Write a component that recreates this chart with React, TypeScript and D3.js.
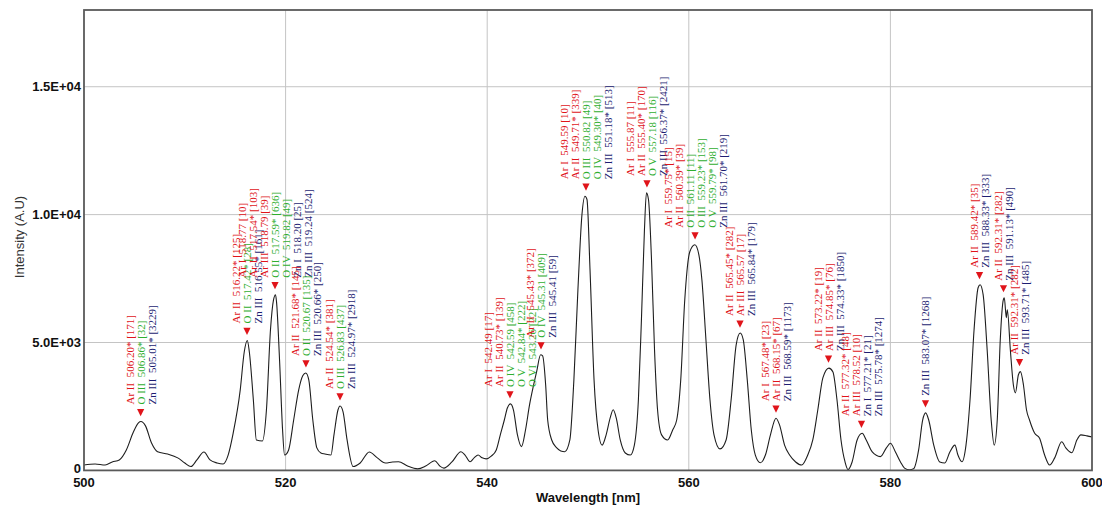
import React from "react";
import * as d3 from "d3";

// Emission spectrum: wavelength (nm) and intensity (a.u.)
const wavelengths = [
  500.0, 501.1, 502.1, 502.8, 503.5, 504.2, 504.9, 505.4, 505.65, 506.1, 506.7, 507.3, 508.3, 509.3, 510.0,
  510.6, 511.2, 511.9, 512.5, 513.2, 513.8, 514.3, 514.8, 515.5, 515.9, 516.2, 516.4, 516.8, 517.1, 517.7,
  518.1, 518.5, 518.8, 519.0, 519.1, 519.4, 519.7, 519.9, 520.3, 520.8, 521.3, 521.7, 522.0, 522.3, 522.7,
  523.1, 523.5, 523.9, 524.5, 524.8, 525.2, 525.4, 525.7, 526.1, 526.7, 527.4, 528.3, 529.1, 529.9, 530.6,
  531.2, 532.1, 533.1, 533.9, 534.8, 535.3, 535.7, 536.5, 537.4, 537.8, 538.3, 538.7, 539.1, 539.5, 539.9,
  540.4, 540.9, 541.3, 541.7, 542.0, 542.3, 542.6, 543.0, 543.4, 543.8, 544.2, 544.5, 544.9, 545.3, 545.5,
  545.8, 546.0, 546.4, 546.9, 547.3, 547.7, 548.2, 548.6, 549.0, 549.4, 549.7, 549.9, 550.2, 550.6, 551.0,
  551.4, 551.8, 552.2, 552.5, 552.8, 553.2, 553.7, 554.2, 554.6, 555.0, 555.3, 555.6, 555.8, 556.0, 556.3,
  556.6, 556.9, 557.3, 557.9, 558.4, 558.8, 559.2, 559.6, 560.1, 560.6, 561.0, 561.3, 561.7, 562.1, 562.5,
  563.1, 563.7, 564.2, 564.7, 565.1, 565.4, 565.8, 566.2, 566.6, 567.1, 567.6, 568.1, 568.65, 569.0, 569.5,
  570.0, 570.6, 571.2, 571.8, 572.3, 572.8, 573.3, 573.9, 574.3, 574.7, 575.1, 575.5, 575.8, 576.2, 576.7,
  577.2, 577.6, 578.2, 579.0, 579.6, 580.0, 580.5, 581.0, 581.4, 581.9, 582.3, 582.8, 583.2, 583.5, 583.8,
  584.3, 584.9, 585.4, 585.9, 586.4, 586.7, 587.1, 587.5, 587.9, 588.3, 588.7, 588.9, 589.2, 589.6, 590.0,
  590.3, 590.6, 590.9, 591.2, 591.3, 591.5, 591.6, 591.9, 592.2, 592.4, 592.7, 592.9, 593.2, 593.5, 593.8,
  594.3, 594.8, 595.3, 595.8, 596.3, 597.0, 597.4, 598.0, 598.5, 598.9, 599.5, 600.0,
];
const intensities = [
  210, 250, 210, 330, 410, 800, 1500, 1860, 1910, 1740, 1070, 730, 640, 490, 290,
  150, 410, 720, 410, 290, 250, 600, 1460, 3150, 4640, 5080, 4640, 2760, 1190, 1150,
  2370, 5500, 6670, 6870, 6590, 4320, 1580, 600, 800, 1970, 3150, 3700, 3810, 3540, 1970,
  880, 680, 640, 600, 1390, 2370, 2520, 2290, 1190, 150, 290, 720, 490, 290, 330,
  340, 170, 60, 170, 380, 170, 90, 330, 730, 600, 340, 490, 600, 490, 450,
  560, 800, 1390, 1970, 2440, 2600, 2370, 1390, 930, 1580, 2560, 3150, 3850, 4520, 4480,
  3340, 1970, 1190, 880, 760, 730, 1190, 3540, 7060, 10000, 10720, 10590, 7850, 3540, 1580,
  990, 1390, 2050, 2370, 2050, 1190, 680, 600, 990, 2760, 5890, 9410, 10850, 10590, 8240,
  4710, 2370, 1390, 1190, 1580, 1970, 3540, 6670, 8550, 8820, 8430, 7450, 5110, 2760, 1390,
  840, 1190, 2760, 4910, 5370, 5110, 3540, 1580, 600, 300, 600, 1390, 2040, 1780, 990,
  600, 330, 210, 600, 1190, 2370, 3620, 4000, 3850, 2760, 1190, 330, 30, 330, 1190,
  1450, 1190, 720, 540, 880, 1060, 720, 330, 90, 20, 60, 800, 1970, 2250, 1970,
  990, 330, 290, 720, 990, 600, 340, 990, 2760, 5500, 7140, 7260, 6870, 4710, 1970,
  990, 1970, 5110, 6670, 6750, 5970, 6280, 4710, 3340, 3030, 3740, 3860, 3340, 2370, 1970,
  1460, 1260, 600, 210, 490, 1120, 880, 690, 1190, 1390, 1350, 1310,
];

// Identified lines: marker wavelength and the label lines stacked above it
const markerWavelengths = [
  505.62, 516.17, 518.95, 522.02, 525.4, 542.26, 545.34, 549.8, 555.85, 560.62, 565.08, 568.65,
  573.86, 577.13, 583.48, 588.84, 591.22, 592.81,
];
const markerLabels = [
  ["Ar II  506.20* [171]", "O III  506.86* [32]", "Zn III  505.01* [3229]"],
  ["Ar II  516.22* [125]", "O II  517.42* [28]", "Zn III  516.55* [161]"],
  [
    "Ar I  518.77 [10]",
    "Ar II  517.54* [103]",
    "Ar III  518.79 [39]",
    "O II  517.59* [636]",
    "O IV  519.82 [49]",
    "Zn I  518.20 [25]",
    "Zn III  519.24 [524]",
  ],
  ["Ar II  521.68* [145]", "O II  520.67 [135]", "Zn III  520.66* [250]"],
  ["Ar II  524.54* [381]", "O III  526.83 [437]", "Zn III  524.97* [2918]"],
  ["Ar I  542.49 [17]", "Ar II  540.73* [139]", "O IV  542.59 [458]", "O V  542.84* [222]", "O VI  543.26 [22]"],
  ["Ar II  545.43* [372]", "O IV  545.31 [409]", "Zn III  545.41 [59]"],
  ["Ar I  549.59 [10]", "Ar II  549.71* [339]", "O III  550.82 [49]", "O IV  549.30* [40]", "Zn III  551.18* [513]"],
  ["Ar I  555.87 [11]", "Ar II  555.40* [170]", "O V  557.18 [116]", "Zn III  556.37* [2421]"],
  [
    "Ar I  559.75* [15]",
    "Ar II  560.39* [39]",
    "O II  561.11 [11]",
    "O III  559.23* [153]",
    "O V  559.79* [98]",
    "Zn III  561.70* [219]",
  ],
  ["Ar II  565.45* [282]", "Ar III  565.57 [17]", "Zn III  565.84* [179]"],
  ["Ar I  567.48* [23]", "Ar II  568.15* [67]", "Zn III  568.59* [1173]"],
  ["Ar II  573.22* [19]", "Ar III  574.85* [76]", "Zn III  574.33* [1850]"],
  ["Ar II  577.32* [48]", "Ar III  578.52 [10]", "Zn I  577.21* [21]", "Zn III  575.78* [1274]"],
  ["Zn III  583.07* [1268]"],
  ["Ar II  589.42* [35]", "Zn III  588.33* [333]"],
  ["Ar II  592.31* [282]", "Zn III  591.13* [490]"],
  ["Ar II  592.31* [282]", "Zn III  593.71* [485]"],
];

const xTicks = [500, 520, 540, 560, 580, 600];
const yTicks = [0, 5000, 10000, 15000];
const yTickLabels = ["0", "5.0E+03", "1.0E+04", "1.5E+04"];

const elementColor = (label: string) =>
  label.startsWith("Ar") ? "#e0141a" : label.startsWith("O") ? "#2fae2f" : "#1d1d72";

const W = 1102;
const H = 508;
const left = 84;
const right = 1092;
const top = 10;
const bottom = 470.4;

export default function App() {
  const x = d3.scaleLinear().domain([500, 600]).range([left, right]);
  const y = d3.scaleLinear().domain([0, 18000]).range([bottom, top]);

  const points = wavelengths.map((w, i) => [w, intensities[i]] as [number, number]);
  const line = d3
    .line<[number, number]>()
    .x((d) => x(d[0]))
    .y((d) => y(d[1]))
    .curve(d3.curveMonotoneX);

  const colStep = 11;

  return (
    <div style={{ position: "absolute", left: 0, top: 0 }}>
      <svg width={W} height={H} style={{ display: "block", background: "#fff" }}>
        <defs>
          <clipPath id="plot-clip">
            <rect x={left} y={top} width={right - left} height={bottom - top} />
          </clipPath>
        </defs>

        {/* grid */}
        {yTicks.slice(1).map((t) => (
          <line key={"gy" + t} x1={left} x2={right} y1={y(t)} y2={y(t)} stroke="#c4c4c4" strokeWidth={1} />
        ))}
        {xTicks.slice(1, -1).map((t) => (
          <line key={"gx" + t} x1={x(t)} x2={x(t)} y1={top} y2={bottom} stroke="#c4c4c4" strokeWidth={1} />
        ))}

        {/* spectrum */}
        <path
          d={line(points) || ""}
          fill="none"
          stroke="#1e1e1e"
          strokeWidth={1.1}
          clipPath="url(#plot-clip)"
        />

        {/* line identifications */}
        {markerWavelengths.map((w, gi) => {
          const near = points.filter((p) => Math.abs(p[0] - w) <= 0.35);
          const peak = d3.max(near, (p) => p[1]) ?? 0;
          const mx = x(w);
          const my = y(peak) - 9;
          const labels = markerLabels[gi];
          const n = labels.length;
          const textBottom = my - 8;
          return (
            <g key={"m" + gi}>
              <path
                d={`M${mx - 3.6},${my - 3.6}L${mx + 3.6},${my - 3.6}L${mx},${my + 3.6}Z`}
                fill="#e0141a"
              />
              {labels.map((lab, li) => {
                const cx = mx + (li - (n - 1) / 2) * colStep;
                return (
                  <text
                    key={li}
                    transform={`translate(${cx},${textBottom}) rotate(-90)`}
                    dominantBaseline="central"
                    fontFamily="'Liberation Serif', 'Times New Roman', serif"
                    fontSize={11}
                    fill={elementColor(lab)}
                    style={{ whiteSpace: "pre" }}
                  >
                    {lab}
                  </text>
                );
              })}
            </g>
          );
        })}

        {/* frame */}
        <rect
          x={left}
          y={top}
          width={right - left}
          height={bottom - top}
          fill="none"
          stroke="#5a5a5a"
          strokeWidth={1.8}
        />

        {/* y axis */}
        {yTicks.map((t, i) => (
          <text
            key={"yt" + t}
            x={left - 3}
            y={y(t) - (t === 0 ? 2 : 0)}
            textAnchor="end"
            dominantBaseline="central"
            fontFamily="'Liberation Sans', Arial, sans-serif"
            fontWeight="bold"
            fontSize={13}
            fill="#111"
          >
            {yTickLabels[i]}
          </text>
        ))}
        <text
          transform={`translate(19,237) rotate(-90)`}
          textAnchor="middle"
          dominantBaseline="central"
          fontFamily="'Liberation Sans', Arial, sans-serif"
          fontSize={13}
          fill="#333"
        >
          Intensity (A.U)
        </text>

        {/* x axis */}
        {xTicks.map((t) => (
          <text
            key={"xt" + t}
            x={x(t)}
            y={482}
            textAnchor="middle"
            dominantBaseline="central"
            fontFamily="'Liberation Sans', Arial, sans-serif"
            fontWeight="bold"
            fontSize={13}
            fill="#111"
          >
            {t}
          </text>
        ))}
        <text
          x={(left + right) / 2}
          y={497}
          textAnchor="middle"
          dominantBaseline="central"
          fontFamily="'Liberation Sans', Arial, sans-serif"
          fontWeight="bold"
          fontSize={13}
          fill="#111"
        >
          Wavelength [nm]
        </text>
      </svg>
    </div>
  );
}
